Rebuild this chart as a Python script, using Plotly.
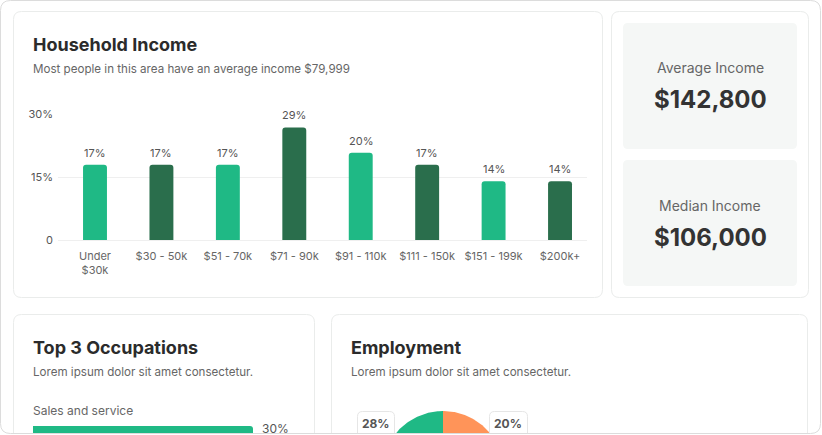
import numpy as np
import plotly.graph_objects as go

W, H = 822, 435

# ---------------- data ----------------
income_brackets = ["Under<br>$30k", "$30 - 50k", "$51 - 70k", "$71 - 90k",
                   "$91 - 110k", "$111 - 150k", "$151 - 199k", "$200k+"]
income_share = [17.9, 17.9, 17.9, 26.8, 20.8, 17.9, 14.0, 14.0]
income_labels = ["17%", "17%", "17%", "29%", "20%", "17%", "14%", "14%"]
y_tick_vals = [0, 15, 30]
y_tick_text = ["0", "15%", "30%"]

occupations = ["Sales and service"]
occupation_share = [30]
occupation_labels = ["30%"]

# employment slices, listed clockwise from 12 o'clock
employment_groups = ["Part-time", "Other", "Full-time"]
employment_share = [20, 52, 28]
employment_labels = ["20%", "52%", "28%"]

average_income = "$142,800"
median_income = "$106,000"

# ---------------- style ----------------
FONT = "Inter"
LIGHT = "#1fb985"
DARK = "#2a6e4c"
ORANGE = "#ff9459"
EMP_COLORS = [ORANGE, "#2a6e4c", LIGHT]
CARD_LINE = "#eaeceb"
TXT_DARK = "#2b2b2b"
TXT_MID = "#666666"


def X(p):
    return p / W


def Y(p):
    return 1 - p / H


def rrect(x0, y0, x1, y1, r, open_bottom=False):
    if open_bottom:
        return (f"M {X(x0)},{Y(y1)} L {X(x0)},{Y(y0 + r)} Q {X(x0)},{Y(y0)} {X(x0 + r)},{Y(y0)} "
                f"L {X(x1 - r)},{Y(y0)} Q {X(x1)},{Y(y0)} {X(x1)},{Y(y0 + r)} L {X(x1)},{Y(y1)}")
    return (f"M {X(x0 + r)},{Y(y0)} L {X(x1 - r)},{Y(y0)} Q {X(x1)},{Y(y0)} {X(x1)},{Y(y0 + r)} "
            f"L {X(x1)},{Y(y1 - r)} Q {X(x1)},{Y(y1)} {X(x1 - r)},{Y(y1)} "
            f"L {X(x0 + r)},{Y(y1)} Q {X(x0)},{Y(y1)} {X(x0)},{Y(y1 - r)} "
            f"L {X(x0)},{Y(y0 + r)} Q {X(x0)},{Y(y0)} {X(x0 + r)},{Y(y0)} Z")


fig = go.Figure()

# ---- household income bars ----
bar_colors = [LIGHT if i % 2 == 0 else DARK for i in range(len(income_brackets))]
fig.add_trace(go.Bar(
    x=list(range(len(income_brackets))), y=income_share, width=0.36,
    marker=dict(color=bar_colors, cornerradius=3, line=dict(width=0)),
    xaxis="x", yaxis="y", hoverinfo="skip", showlegend=False,
))

# ---- occupation bar ----
fig.add_trace(go.Bar(
    x=occupation_share, y=[0], orientation="h", width=0.8,
    marker=dict(color=LIGHT, cornerradius=3, line=dict(width=0)),
    xaxis="x2", yaxis="y2", hoverinfo="skip", showlegend=False,
))

# ---- employment pie (clipped by the frame) ----
R = 61
start = 0.0
for grp, share, col in zip(employment_groups, employment_share, EMP_COLORS):
    end = start + share / 100 * 2 * np.pi
    th = np.linspace(start, end, 80)
    xs = np.concatenate([[0], R * np.sin(th), [0]])
    ys = np.concatenate([[0], R * np.cos(th), [0]])
    fig.add_trace(go.Scatter(x=xs, y=ys, fill="toself", fillcolor=col, mode="lines",
                             line=dict(width=0, color=col), xaxis="x3", yaxis="y3",
                             hoverinfo="skip", showlegend=False, name=grp))
    start = end

shapes = []
# outer frame
shapes.append(dict(type="path", path=rrect(0.5, 0.5, 820.5, 433.5, 10), xref="paper", yref="paper",
                   line=dict(color="#dcdcdc", width=1), layer="above"))
# cards
shapes.append(dict(type="path", path=rrect(13.5, 11.5, 602.5, 297.5, 8), xref="paper", yref="paper",
                   line=dict(color=CARD_LINE, width=1), layer="below"))
shapes.append(dict(type="path", path=rrect(611.5, 11.5, 808.5, 297.5, 8), xref="paper", yref="paper",
                   line=dict(color=CARD_LINE, width=1), layer="below"))
shapes.append(dict(type="path", path=rrect(623, 23, 797, 149, 5), xref="paper", yref="paper",
                   line=dict(width=0), fillcolor="#f5f7f6", layer="below"))
shapes.append(dict(type="path", path=rrect(623, 160, 797, 286, 5), xref="paper", yref="paper",
                   line=dict(width=0), fillcolor="#f5f7f6", layer="below"))
shapes.append(dict(type="path", path=rrect(13.5, 314.5, 314.5, 433, 8, open_bottom=True),
                   xref="paper", yref="paper", line=dict(color=CARD_LINE, width=1), layer="below"))
shapes.append(dict(type="path", path=rrect(331.5, 314.5, 807.5, 433, 8, open_bottom=True),
                   xref="paper", yref="paper", line=dict(color=CARD_LINE, width=1), layer="below"))
# pie label boxes
shapes.append(dict(type="path", path=rrect(357.5, 411.5, 394.5, 433, 5, open_bottom=True),
                   xref="paper", yref="paper", line=dict(color="#e6e6e6", width=1),
                   fillcolor="white", layer="above"))
shapes.append(dict(type="path", path=rrect(489.5, 411.5, 527.5, 433, 5, open_bottom=True),
                   xref="paper", yref="paper", line=dict(color="#e6e6e6", width=1),
                   fillcolor="white", layer="above"))
# mask below frame
shapes.append(dict(type="rect", x0=0, x1=1, y0=0, y1=Y(434), xref="paper", yref="paper",
                   line=dict(width=0), fillcolor="white", layer="above"))

ann = []


def text(x, y, s, size, color, anchor="left", bold=False):
    ann.append(dict(x=X(x), y=Y(y), xref="paper", yref="paper", text=f"<b>{s}</b>" if bold else s,
                    showarrow=False, xanchor=anchor, yanchor="middle", borderpad=0, borderwidth=0,
                    font=dict(family=FONT, size=size, color=color)))


text(33, 44, "Household Income", 18, TXT_DARK, bold=True)
text(33, 69, "Most people in this area have an average income $79,999", 11.6, TXT_MID)
text(710, 68, "Average Income", 14, TXT_MID, anchor="center")
text(710, 100, average_income, 24, "#333333", anchor="center", bold=True)
text(710, 205, "Median Income", 14, TXT_MID, anchor="center")
text(710, 237, median_income, 24, "#333333", anchor="center", bold=True)
text(33, 347, "Top 3 Occupations", 18, TXT_DARK, bold=True)
text(33, 372, "Lorem ipsum dolor sit amet consectetur.", 11.6, TXT_MID)
text(33, 410, occupations[0], 12, TXT_MID)
text(351, 347, "Employment", 18, TXT_DARK, bold=True)
text(351, 372, "Lorem ipsum dolor sit amet consectetur.", 11.6, TXT_MID)
text(376, 423, employment_labels[2], 12, "#555555", anchor="center", bold=True)
text(508, 423, employment_labels[0], 12, "#555555", anchor="center", bold=True)

# bar value labels
for i, (v, lab) in enumerate(zip(income_share, income_labels)):
    ann.append(dict(x=i, y=v, xref="x", yref="y", text=lab, showarrow=False,
                    yanchor="bottom", yshift=3, font=dict(family=FONT, size=11, color="#555555")))

# occupation value label
ann.append(dict(x=occupation_share[0], y=Y(428), xref="x2", yref="paper", text=occupation_labels[0],
                showarrow=False, xanchor="left", yanchor="middle", xshift=8, borderpad=0,
                font=dict(family=FONT, size=12, color="#555555")))

PXU = 30 / 126  # y units per pixel in the income chart
fig.update_layout(
    width=W, height=H, margin=dict(l=0, r=0, t=0, b=0, pad=0, autoexpand=False),
    paper_bgcolor="white", plot_bgcolor="rgba(0,0,0,0)",
    font=dict(family=FONT, color="#555555"),
    shapes=shapes, annotations=ann, showlegend=False,
    xaxis=dict(domain=[X(58), X(587)], range=[-0.557, 7.406], automargin=False,
               tickvals=list(range(len(income_brackets))), ticktext=income_brackets,
               tickfont=dict(size=11, color="#666666"), showgrid=False, zeroline=False,
               showline=False, ticks="", ticklabelstandoff=7, fixedrange=True),
    yaxis=dict(domain=[Y(241), Y(113)], range=[-PXU, 30 + PXU], tickvals=y_tick_vals,
               ticktext=y_tick_text, automargin=False,
               tickfont=dict(size=11, color="#555555"), gridcolor="#efefef", gridwidth=1,
               zeroline=False, showline=False, ticks="", ticklabelstandoff=4, fixedrange=True),
    xaxis2=dict(domain=[X(33), X(253)], range=[0, 30], visible=False, anchor="y2", automargin=False),
    yaxis2=dict(domain=[Y(433), Y(426)], range=[-0.1, 0.4], visible=False, anchor="x2", automargin=False),
    xaxis3=dict(domain=[X(340), X(546)], range=[340 - 443, 546 - 443], visible=False, anchor="y3",
                automargin=False),
    yaxis3=dict(domain=[Y(433), Y(395)], range=[472 - 433, 472 - 395], visible=False, anchor="x3",
                automargin=False),
)

fig.write_html("out.html", config={"displayModeBar": False},
               post_script="document.body.style.margin='0';document.body.style.overflow='hidden';")
